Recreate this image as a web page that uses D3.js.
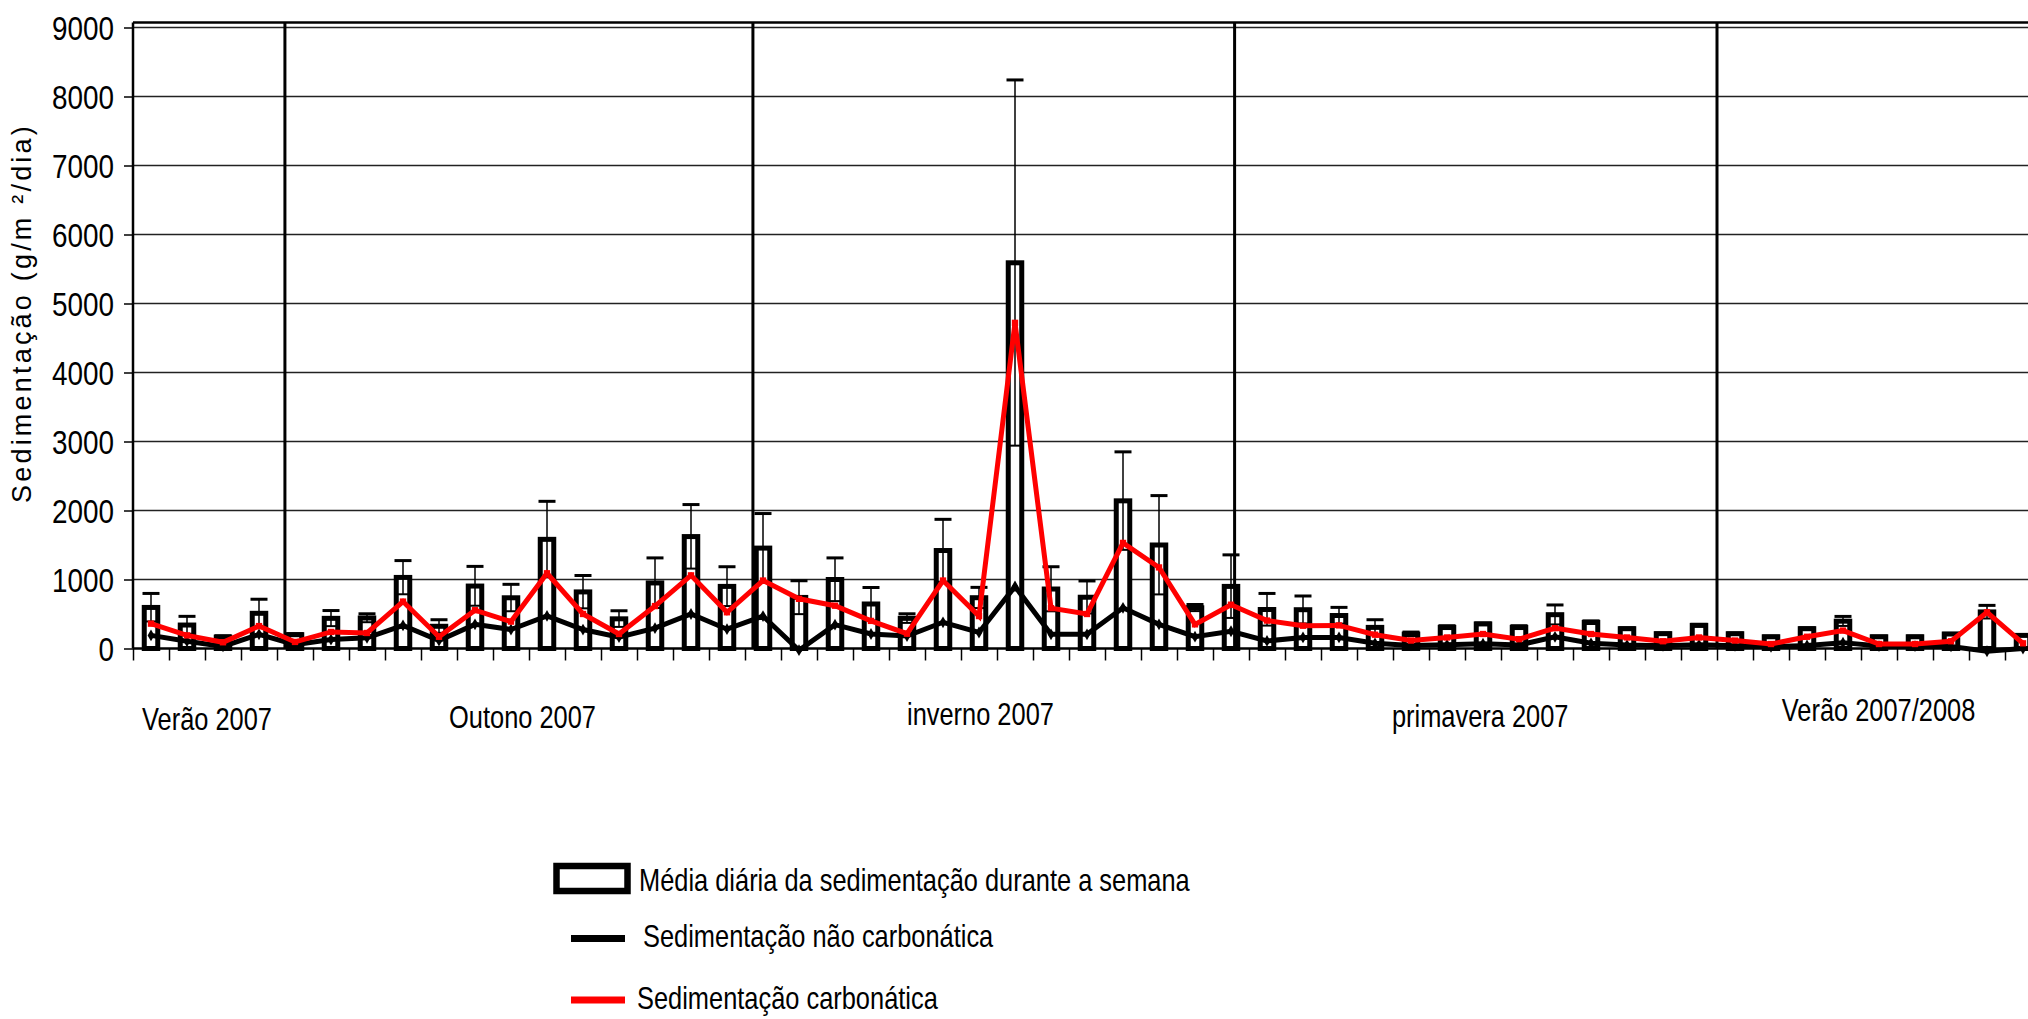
<!DOCTYPE html>
<html>
<head>
<meta charset="utf-8">
<script src="https://cdn.jsdelivr.net/npm/d3@7/dist/d3.min.js"></script>
<style>
  body { margin: 0; background: #fff; overflow: hidden; }
  svg { display: block; }
</style>
</head>
<body>
<div id="chart"></div>
<script>
// weekly sampling, summer 2007 -> summer 2007/2008 (53 weeks)
const weeks = d3.range(1, 54);

// daily mean sedimentation per week (g/m2/day)
const weeklyMean = [
  595, 340, 165, 510, 200, 437, 442, 1030, 322, 905,
  735, 1582, 820, 430, 950, 1622, 900, 1455, 740, 1000,
  645, 437, 1420, 736, 5590, 862, 743, 2140, 1500, 590,
  900, 565, 562, 478, 306, 209, 306, 356, 306, 490,
  378, 287, 215, 335, 214, 170, 287, 396, 170, 170,
  210, 530, 190
];

// standard deviation of the daily values
const weeklySd = [
  203, 126, 20, 204, 15, 113, 61, 244, 95, 285,
  195, 551, 238, 117, 363, 464, 285, 501, 242, 313,
  239, 66, 452, 150, 2650, 323, 236, 710, 716, 48,
  457, 233, 199, 118, 111, 29, 24, 14, 24, 141,
  22, 13, 10, 15, 11, 10, 13, 69, 10, 10,
  10, 95, 10
];

// non carbonate fraction
const nonCarbonate = [
  190, 105, 30, 205, 55, 130, 155, 335, 115, 350,
  275, 472, 275, 165, 295, 500, 280, 470, -25, 345,
  210, 180, 380, 232, 900, 205, 205, 590, 350, 172,
  250, 110, 160, 160, 75, 45, 55, 70, 50, 170,
  75, 50, 40, 55, 40, 25, 45, 85, 35, 35,
  30, -40, 0
];

// carbonate fraction
const carbonate = [
  360, 190, 90, 325, 95, 240, 225, 680, 170, 555,
  390, 1090, 500, 210, 615, 1060, 525, 985, 720, 620,
  400, 215, 985, 470, 4720, 585, 500, 1530, 1175, 350,
  635, 405, 330, 335, 200, 115, 160, 210, 135, 295,
  210, 160, 105, 160, 115, 65, 170, 260, 65, 65,
  105, 525, 75
];

const seasonNames = ['Verão 2007', 'Outono 2007', 'inverno 2007', 'primavera 2007', 'Verão 2007/2008'];
// season boundaries, in weeks from the first sample
const seasonBreaks = [4.22, 17.22, 30.6, 44.0];

const yTicks = d3.range(0, 9001, 1000);

const legendItems = [
  'Média diária da sedimentação durante a semana',
  'Sedimentação não carbonática',
  'Sedimentação carbonática'
];

// layout
const WIDTH = 2028;
const HEIGHT = 1019;
const PLOT_LEFT = 133;
const PLOT_TOP = 22.5;
const BASELINE = 648.5;
const STEP = 36;
// where the season names start (in weeks) and their baselines
const seasonLabelAt = [0.25, 8.78, 21.5, 34.97, 45.8];
const seasonLabelY = [730, 728, 725, 727, 721];

// condensed face if installed, otherwise squeeze the regular one
function hasFont(name) {
  const ctx = document.createElement('canvas').getContext('2d');
  ctx.font = '40px monospace';
  const base = ctx.measureText('Verão 2007 wmi').width;
  ctx.font = `40px "${name}", monospace`;
  return ctx.measureText('Verão 2007 wmi').width !== base;
}
const narrow = hasFont('Liberation Sans Narrow');
const NARROW_FONT = narrow ? '"Liberation Sans Narrow", "Arial Narrow", sans-serif' : '"Liberation Sans", Arial, sans-serif';
const squeeze = narrow ? '' : ' scale(0.82,1)';

const $svg = d3.select('#chart').append('svg')
  .attr('width', WIDTH)
  .attr('height', HEIGHT);

// scales
const xPos = d3.scaleLinear()
  .domain([0, weeks.length])
  .range([PLOT_LEFT, PLOT_LEFT + weeks.length * STEP]);
const xBand = d3.scaleBand()
  .domain(weeks)
  .range(xPos.range());
const yScale = d3.scaleLinear()
  .domain([0, 9000])
  .range([BASELINE, 27.5]);
const xCenter = (d, i) => xBand(weeks[i]) + xBand.bandwidth() / 2;

// gridlines
$svg.append('g').attr('class', 'grid')
  .selectAll('line')
  .data(yTicks.filter(d => d > 0))
  .join('line')
  .attr('x1', PLOT_LEFT)
  .attr('x2', WIDTH)
  .attr('y1', d => yScale(d))
  .attr('y2', d => yScale(d))
  .attr('stroke', '#222')
  .attr('stroke-width', 1.5);

// top frame
$svg.append('line')
  .attr('x1', PLOT_LEFT).attr('x2', WIDTH)
  .attr('y1', PLOT_TOP).attr('y2', PLOT_TOP)
  .attr('stroke', '#000').attr('stroke-width', 2.5);

// y axis
const $yAxis = $svg.append('g')
  .attr('transform', `translate(${PLOT_LEFT},0)`)
  .call(d3.axisLeft(yScale).tickValues(yTicks).tickFormat(d3.format('d'))
    .tickSize(9).tickPadding(10).tickSizeOuter(0));
$yAxis.select('.domain').remove();
$yAxis.selectAll('.tick line').attr('stroke', '#000').attr('stroke-width', 1.5);
$yAxis.selectAll('.tick text')
  .attr('font-family', NARROW_FONT)
  .attr('font-size', 34)
  .attr('fill', '#000')
  .attr('dy', '0.35em')
  .attr('x', null)
  .attr('transform', 'translate(-19,0)' + squeeze);
$svg.append('line')
  .attr('x1', PLOT_LEFT).attr('x2', PLOT_LEFT)
  .attr('y1', PLOT_TOP).attr('y2', BASELINE)
  .attr('stroke', '#000').attr('stroke-width', 2.5);

// x axis: plain ticks between the weeks
const $xAxis = $svg.append('g')
  .attr('transform', `translate(0,${BASELINE})`)
  .call(d3.axisBottom(xPos).tickValues(d3.range(0, weeks.length + 1)).tickSize(12).tickFormat(''));
$xAxis.select('.domain').remove();
$xAxis.selectAll('.tick line').attr('stroke', '#000').attr('stroke-width', 1.5);
$svg.append('line')
  .attr('x1', PLOT_LEFT).attr('x2', WIDTH)
  .attr('y1', BASELINE).attr('y2', BASELINE)
  .attr('stroke', '#000').attr('stroke-width', 2.5);

// bars
const barW = 13.5;
$svg.append('g').attr('class', 'bars')
  .selectAll('rect')
  .data(weeklyMean)
  .join('rect')
  .attr('x', (d, i) => xCenter(d, i) - barW / 2)
  .attr('width', barW)
  .attr('y', d => yScale(d))
  .attr('height', d => BASELINE - yScale(d))
  .attr('fill', '#fff')
  .attr('stroke', '#000')
  .attr('stroke-width', 5);

// error bars (+/- sd)
const $err = $svg.append('g').attr('class', 'errors')
  .selectAll('g')
  .data(weeklyMean.map((m, i) => ({ m, sd: weeklySd[i], i })))
  .join('g');
$err.append('line')
  .attr('x1', d => xCenter(null, d.i))
  .attr('x2', d => xCenter(null, d.i))
  .attr('y1', d => yScale(d.m - d.sd))
  .attr('y2', d => yScale(d.m + d.sd))
  .attr('stroke', '#000')
  .attr('stroke-width', 1.5);
[1, -1].forEach(sign => {
  $err.append('line')
    .attr('x1', d => xCenter(null, d.i) - 8.5)
    .attr('x2', d => xCenter(null, d.i) + 8.5)
    .attr('y1', d => yScale(d.m + sign * d.sd))
    .attr('y2', d => yScale(d.m + sign * d.sd))
    .attr('stroke', '#000')
    .attr('stroke-width', sign > 0 ? 3 : 2);
});

// season dividers
$svg.append('g').attr('class', 'seasons')
  .selectAll('line')
  .data(seasonBreaks)
  .join('line')
  .attr('x1', d => xPos(d))
  .attr('x2', d => xPos(d))
  .attr('y1', PLOT_TOP)
  .attr('y2', BASELINE)
  .attr('stroke', '#000')
  .attr('stroke-width', 3);

// series lines
const line = d3.line()
  .x((d, i) => xCenter(d, i))
  .y(d => yScale(d));

function drawSeries(values, color, marker) {
  $svg.append('path')
    .datum(values)
    .attr('d', line)
    .attr('fill', 'none')
    .attr('stroke', color)
    .attr('stroke-width', 5)
    .attr('stroke-linejoin', 'miter');
  $svg.append('g')
    .selectAll('path')
    .data(values)
    .join('path')
    .attr('d', d3.symbol().type(marker).size(40))
    .attr('transform', (d, i) => `translate(${xCenter(d, i)},${yScale(d)})`)
    .attr('fill', color);
}
drawSeries(nonCarbonate, '#000', d3.symbolDiamond);
drawSeries(carbonate, '#ff0000', d3.symbolSquare);

// season names
$svg.append('g')
  .selectAll('text')
  .data(seasonNames)
  .join('text')
  .attr('transform', (d, i) => `translate(${xPos(seasonLabelAt[i])},${seasonLabelY[i]})` + squeeze)
  .attr('font-family', NARROW_FONT)
  .attr('font-size', 31)
  .attr('fill', '#000')
  .text(d => d);

// y title
$svg.append('text')
  .attr('transform', 'translate(31,313) rotate(-90)')
  .attr('text-anchor', 'middle')
  .attr('font-family', '"Liberation Sans", Arial, sans-serif')
  .attr('font-size', 27)
  .attr('letter-spacing', 3.2)
  .attr('fill', '#000')
  .text('Sedimentação  (g/m ²/dia)');

// legend
const $legend = $svg.append('g').attr('class', 'legend');
$legend.append('rect')
  .attr('x', 556.5).attr('y', 866)
  .attr('width', 71).attr('height', 25)
  .attr('fill', '#fff')
  .attr('stroke', '#000')
  .attr('stroke-width', 6.5);
$legend.append('line')
  .attr('x1', 571).attr('x2', 625)
  .attr('y1', 938.5).attr('y2', 938.5)
  .attr('stroke', '#000').attr('stroke-width', 7);
$legend.append('line')
  .attr('x1', 571).attr('x2', 625)
  .attr('y1', 1000).attr('y2', 1000)
  .attr('stroke', '#ff0000').attr('stroke-width', 7);
const legendText = [[639, 891], [643, 947], [637, 1009]];
$legend.selectAll('text')
  .data(legendItems)
  .join('text')
  .attr('transform', (d, i) => `translate(${legendText[i][0]},${legendText[i][1]})` + squeeze)
  .attr('font-family', NARROW_FONT)
  .attr('font-size', 31)
  .attr('fill', '#000')
  .text(d => d);
</script>
</body>
</html>
